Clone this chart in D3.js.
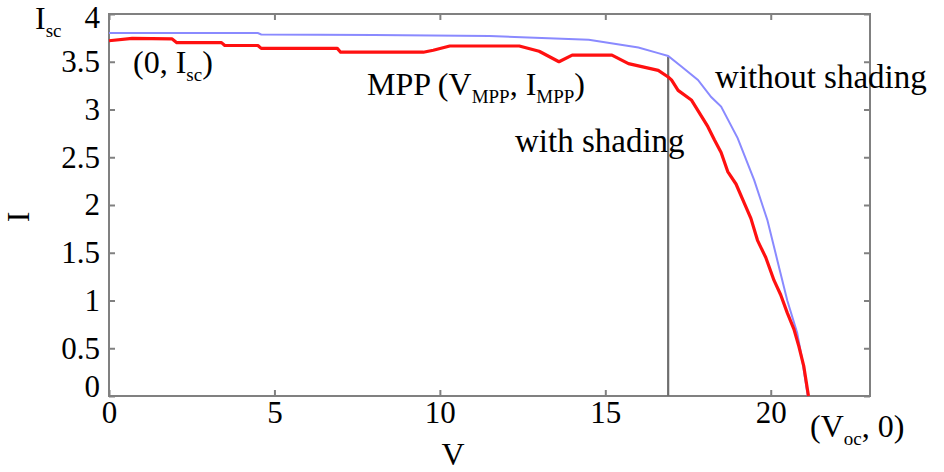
<!DOCTYPE html>
<html>
<head>
<meta charset="utf-8">
<script src="https://cdn.jsdelivr.net/npm/d3@7"></script>
<style>
  body { margin: 0; background: #fff; }
</style>
</head>
<body>
<svg width="944" height="472"></svg>
<script>
// I-V curve without shading (blue)
var vClear = [0, 4.5, 4.6, 8, 11.5, 14.5, 16.0, 16.6, 16.9, 17.3, 17.8, 18.2, 18.5, 19.0, 19.5, 19.9, 20.2, 20.5, 20.8, 20.95, 21.12];
var iClear = [3.80, 3.80, 3.785, 3.78, 3.77, 3.73, 3.65, 3.59, 3.56, 3.45, 3.31, 3.13, 3.03, 2.70, 2.26, 1.84, 1.42, 1.0, 0.66, 0.38, 0.0];

// I-V curve with shading (red)
var vShade = [0, 0.7, 1.9, 2.05, 3.4, 3.5, 4.5, 4.6, 6.9, 7.0, 9.5, 9.8, 10.3, 12.4, 13.0, 13.6, 14.0, 15.2, 15.7, 16.6, 16.9, 17.0, 17.2, 17.6, 18.1, 18.3, 18.5, 18.7, 18.95, 19.2, 19.4, 19.6, 19.85, 20.1, 20.3, 20.5, 20.7, 20.85, 21.0, 21.14];
var iShade = [3.72, 3.745, 3.74, 3.70, 3.70, 3.67, 3.67, 3.64, 3.64, 3.60, 3.60, 3.62, 3.665, 3.665, 3.61, 3.50, 3.57, 3.57, 3.48, 3.41, 3.34, 3.31, 3.20, 3.10, 2.82, 2.68, 2.55, 2.35, 2.22, 2.02, 1.86, 1.63, 1.45, 1.21, 1.06, 0.87, 0.70, 0.52, 0.31, 0.0];

// MPP marker line
var vMpp = 16.9;
var iMppTop = 3.55;

var xTicks = [0, 5, 10, 15, 20];
var yTicks = [0, 0.5, 1, 1.5, 2, 2.5, 3, 3.5, 4];

var margin = { left: 109, top: 14 };
var inner = { w: 761, h: 382 };
var serif = '"Liberation Serif", "Times New Roman", Times, "DejaVu Serif", serif';

var x = d3.scaleLinear().domain([0, 23]).range([0, inner.w]);
var y = d3.scaleLinear().domain([0, 4]).range([inner.h, 0]);

var svg = d3.select('svg').style('font-family', serif);
var g = svg.append('g').attr('transform', 'translate(' + margin.left + ',' + margin.top + ')');

var axisColor = '#808080';

// box
g.append('rect')
  .attr('width', inner.w).attr('height', inner.h)
  .attr('fill', 'none').attr('stroke', axisColor).attr('stroke-width', 2);

function styleAxis(sel, showLabels) {
  sel.attr('font-family', null);
  sel.select('.domain').remove();
  sel.selectAll('.tick line').attr('stroke', axisColor).attr('stroke-width', 2);
  sel.selectAll('.tick text').style('font-size', '31px').style('font-family', serif).attr('fill', '#000');
  if (!showLabels) sel.selectAll('.tick text').remove();
}

// bottom axis
var xb = g.append('g').attr('transform', 'translate(0,' + inner.h + ')')
  .call(d3.axisBottom(x).tickValues(xTicks).tickSizeInner(-6).tickSizeOuter(0).tickPadding(5).tickFormat(d3.format('d')));
styleAxis(xb, true);

// top axis (ticks only)
var xt = g.append('g')
  .call(d3.axisTop(x).tickValues(xTicks).tickSizeInner(-6).tickSizeOuter(0));
styleAxis(xt, false);

// left axis
var yl = g.append('g')
  .call(d3.axisLeft(y).tickValues(yTicks).tickSizeInner(-6).tickSizeOuter(0).tickPadding(9).tickFormat(function (d) { return String(d); }));
styleAxis(yl, true);
yl.selectAll('.tick text').filter(function (d) { return d === 0; }).attr('y', -9);
yl.selectAll('.tick text').filter(function (d) { return d === 4; }).attr('y', 4);

// right axis (ticks only)
var yr = g.append('g').attr('transform', 'translate(' + inner.w + ',0)')
  .call(d3.axisRight(y).tickValues(yTicks).tickSizeInner(-6).tickSizeOuter(0));
styleAxis(yr, false);

// MPP vertical line
g.append('line')
  .attr('x1', x(vMpp)).attr('x2', x(vMpp))
  .attr('y1', y(0)).attr('y2', y(iMppTop))
  .attr('stroke', '#6e6e6e').attr('stroke-width', 2.2);

var line = d3.line()
  .x(function (d) { return x(d[0]); })
  .y(function (d) { return y(d[1]); });

g.append('path')
  .datum(d3.zip(vClear, iClear))
  .attr('d', line)
  .attr('fill', 'none').attr('stroke', '#8a8aff').attr('stroke-width', 2);

g.append('path')
  .datum(d3.zip(vShade, iShade))
  .attr('d', line)
  .attr('fill', 'none').attr('stroke', '#ff1010').attr('stroke-width', 3.2)
  .attr('stroke-linejoin', 'round');

// text with subscripts: parts = [[text, isSub], ...]
function label(px, py, parts, size) {
  var t = svg.append('text').attr('x', px).attr('y', py)
    .style('font-size', size + 'px').style('font-family', serif);
  var down = false;
  parts.forEach(function (p) {
    var ts = t.append('tspan').text(p[0]);
    if (p[1]) {
      ts.style('font-size', Math.round(size * 0.58) + 'px').attr('dy', down ? 0 : 8);
      down = true;
    } else {
      ts.attr('dy', down ? -8 : 0);
      down = false;
    }
  });
  return t;
}

label(35, 29, [['I', false], ['sc', true]], 32);
label(133, 73, [['(0, I', false], ['sc', true], [')', false]], 32);
label(367, 95, [['MPP (V', false], ['MPP', true], [', I', false], ['MPP', true], [')', false]], 32);
label(515, 152, [['with shading', false]], 33);
label(715, 88, [['without shading', false]], 33);
label(810, 437, [['(V', false], ['oc', true], [', 0)', false]], 32);

svg.append('text')
  .attr('x', 453).attr('y', 465)
  .attr('text-anchor', 'middle')
  .style('font-size', '32px').style('font-family', serif)
  .text('V');

svg.append('text')
  .attr('transform', 'translate(29,217) rotate(-90)')
  .attr('text-anchor', 'middle')
  .style('font-size', '32px').style('font-family', serif)
  .text('I');
</script>
</body>
</html>
